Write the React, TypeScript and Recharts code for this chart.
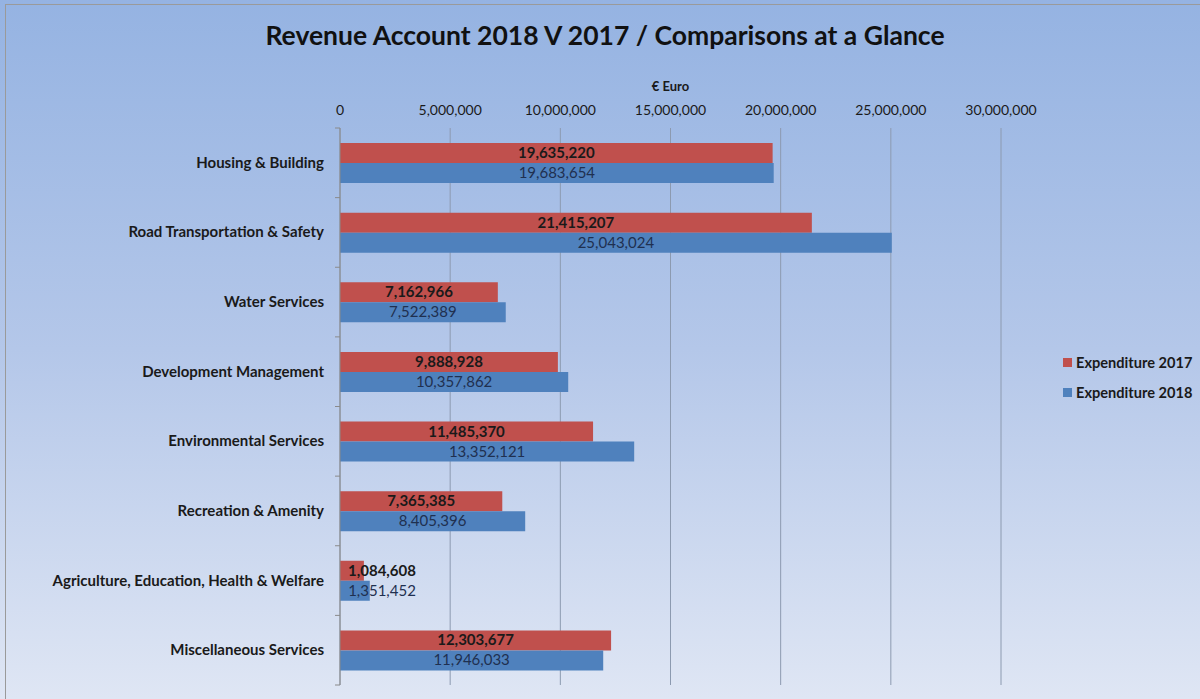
import React from "react";
import { BarChart, Bar, XAxis, YAxis, CartesianGrid, LabelList, Label } from "recharts";

const categories = [
  "Housing & Building",
  "Road Transportation & Safety",
  "Water Services",
  "Development Management",
  "Environmental Services",
  "Recreation & Amenity",
  "Agriculture, Education, Health & Welfare",
  "Miscellaneous Services",
];
const expenditure2017 = [19635220, 21415207, 7162966, 9888928, 11485370, 7365385, 1084608, 12303677];
const expenditure2018 = [19683654, 25043024, 7522389, 10357862, 13352121, 8405396, 1351452, 11946033];
const xTicks = [0, 5000000, 10000000, 15000000, 20000000, 25000000, 30000000];
const seriesNames = ["Expenditure 2017", "Expenditure 2018"];

const data = categories.map((c, i) => ({
  name: c,
  e2017: expenditure2017[i],
  e2018: expenditure2018[i],
}));

const W = 1200;
const H = 699;
const M = { top: 98, right: 199, bottom: 14, left: 0 };
const Y_W = 340;
const PLOT_H = H - M.top - M.bottom - 30;
const BAND = PLOT_H / categories.length;
const FONT = "Lato, 'Open Sans', sans-serif";
const RED = "#C0504D";
const BLUE = "#4F81BD";

const fmt = (v: number) => v.toLocaleString("en-US");

const YTick = (props: any) => {
  const { y, payload, index } = props;
  const ax = M.left + Y_W;
  const half = BAND / 2;
  return (
    <g>
      <line x1={ax - 5} x2={ax} y1={y - half} y2={y - half} stroke="#8a8a8a" />
      {index === categories.length - 1 && (
        <line x1={ax - 5} x2={ax} y1={y + half} y2={y + half} stroke="#8a8a8a" />
      )}
      <text
        x={ax - 16}
        y={y}
        dy={5}
        textAnchor="end"
        fontFamily={FONT}
        fontWeight={700}
        fontSize={15}
        fill="#1a1a1a"
      >
        {payload.value}
      </text>
    </g>
  );
};

const makeLabel = (bold: boolean, color: string) => (props: any) => {
  const { x, y, width, height, value } = props;
  const tw = 66;
  let cx = x + width / 2;
  const minC = x + 9 + tw / 2;
  if (cx < minC) cx = minC;
  return (
    <text
      x={cx}
      y={y + height / 2}
      dy={5}
      textAnchor="middle"
      fontFamily={FONT}
      fontWeight={bold ? 700 : 400}
      fontSize={15}
      fill={color}
    >
      {fmt(value)}
    </text>
  );
};

export default function App() {
  return (
    <div
      style={{
        position: "absolute",
        left: 0,
        top: 0,
        width: W,
        height: H,
        overflow: "hidden",
        background: "linear-gradient(to bottom, #95B3E2 0%, #B4C7E9 50%, #DFE6F4 100%)",
        fontFamily: FONT,
      }}
    >
      <div
        style={{
          position: "absolute",
          left: 5,
          top: 4,
          width: 1210,
          height: 710,
          border: "1px solid #9a9a9a",
          boxSizing: "border-box",
        }}
      />
      <div
        style={{
          position: "absolute",
          left: 5,
          width: 1200,
          top: 19,
          textAlign: "center",
          fontSize: 26.5,
          fontWeight: 700,
          color: "#111",
          fontFamily: FONT,
        }}
      >
        Revenue Account 2018 V 2017 / Comparisons at a Glance
      </div>
      <BarChart
        width={W}
        height={H}
        data={data}
        layout="vertical"
        margin={M}
        barGap={0}
        barCategoryGap={15}
        style={{ position: "absolute", left: 0, top: 0 }}
      >
        <CartesianGrid horizontal={false} vertical={true} stroke="#8C9AB0" strokeWidth={1} />
        <XAxis
          type="number"
          orientation="top"
          domain={[0, 30000000]}
          ticks={xTicks}
          tickFormatter={fmt}
          axisLine={false}
          tickLine={false}
          height={30}
          tickMargin={7}
          tick={{ fontFamily: FONT, fontSize: 14, fill: "#1a1a1a" }}
        >
          <Label
            value="€ Euro"
            position="top"
            offset={7}
            style={{ fontFamily: FONT, fontSize: 13, fontWeight: 700, fill: "#1a1a1a" }}
          />
        </XAxis>
        <YAxis
          type="category"
          dataKey="name"
          width={Y_W}
          axisLine={{ stroke: "#8a8a8a" }}
          tickLine={false}
          tick={<YTick />}
          interval={0}
        />
        <Bar dataKey="e2017" name={seriesNames[0]} fill={RED} barSize={20} isAnimationActive={false}>
          <LabelList dataKey="e2017" content={makeLabel(true, "#1a1a1a")} />
        </Bar>
        <Bar dataKey="e2018" name={seriesNames[1]} fill={BLUE} barSize={20} isAnimationActive={false}>
          <LabelList dataKey="e2018" content={makeLabel(false, "#1F3050")} />
        </Bar>
      </BarChart>
      <div style={{ position: "absolute", left: 1063, top: 347, fontFamily: FONT }}>
        {seriesNames.map((n, i) => (
          <div key={n} style={{ display: "flex", alignItems: "center", height: 30 }}>
            <div style={{ width: 9, height: 9, background: i === 0 ? RED : BLUE, marginRight: 4 }} />
            <span style={{ fontSize: 14.6, fontWeight: 700, color: "#1a1a1a" }}>{n}</span>
          </div>
        ))}
      </div>
    </div>
  );
}
